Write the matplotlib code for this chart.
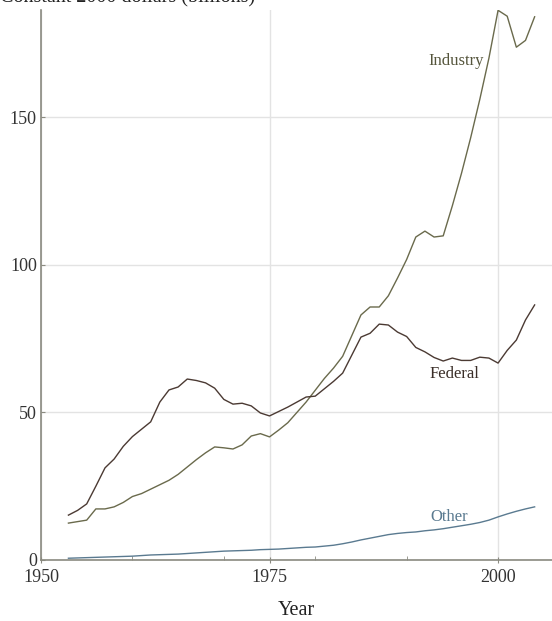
import matplotlib
matplotlib.use("Agg")
import matplotlib.pyplot as plt
from matplotlib.ticker import FixedLocator

years = list(range(1953, 2005))
industry = [12.5, 13.0, 13.5, 17.3, 17.3, 18.0, 19.5, 21.5, 22.5, 24.0, 25.5, 27.0,
            29.0, 31.5, 34.0, 36.3, 38.3, 38.0, 37.6, 39.0, 42.0, 42.8, 41.7, 44.0,
            46.5, 50.0, 53.5, 57.5, 61.5, 65.0, 69.0, 76.0, 83.0, 85.7, 85.7, 89.5,
            95.5, 101.8, 109.4, 111.4, 109.4, 109.8, 120.0, 131.0, 143.0, 156.0, 170.0, 186.2,
            184.2, 173.7, 176.0, 184.0]
federal = [15.2, 16.8, 19.0, 25.0, 31.2, 34.2, 38.5, 41.8, 44.3, 46.8, 53.5, 57.6,
           58.6, 61.3, 60.8, 60.0, 58.2, 54.4, 52.8, 53.1, 52.2, 49.8, 48.8, 50.3,
           51.8, 53.5, 55.2, 55.5, 58.0, 60.5, 63.3, 69.4, 75.5, 76.8, 79.9, 79.6,
           77.2, 75.7, 72.0, 70.5, 68.6, 67.4, 68.4, 67.6, 67.6, 68.7, 68.4, 66.7,
           71.0, 74.5, 81.3, 86.4]
other = [0.6, 0.7, 0.8, 0.9, 1.0, 1.1, 1.2, 1.3, 1.5, 1.7, 1.8, 1.9,
         2.0, 2.2, 2.4, 2.6, 2.8, 3.0, 3.1, 3.2, 3.3, 3.5, 3.6, 3.7,
         3.9, 4.1, 4.3, 4.4, 4.7, 5.0, 5.5, 6.1, 6.8, 7.4, 8.0, 8.6,
         9.0, 9.3, 9.5, 9.9, 10.2, 10.6, 11.1, 11.6, 12.1, 12.7, 13.5, 14.6,
         15.6, 16.5, 17.3, 18.0]

series_names = ["Industry", "Federal", "Other"]
colors = {"Industry": "#6a6a4c", "Federal": "#4b3a33", "Other": "#5a7a90"}
label_colors = {"Industry": "#55553c", "Federal": "#3a2e28", "Other": "#5a7a90"}

plt.rcParams['font.family'] = ['Liberation Serif', 'DejaVu Serif']

fig = plt.figure(figsize=(5.52, 6.21), dpi=100)
ax = fig.add_axes([41/552, 1-560/621, 1-41/552, 550/621])

ax.plot(years, industry, color=colors["Industry"], lw=1.0)
ax.plot(years, federal, color=colors["Federal"], lw=1.0)
ax.plot(years, other, color=colors["Other"], lw=1.0)

ax.set_xlim(1950, 2005.9)
ax.set_ylim(0, 186.3)

ax.xaxis.set_major_locator(FixedLocator([1950, 1975, 2000]))
ax.xaxis.set_minor_locator(FixedLocator([1960, 1970, 1980, 1990]))
ax.yaxis.set_major_locator(FixedLocator([0, 50, 100, 150]))

ax.grid(True, which='major', color='#e3e3e3', lw=1.0)
ax.set_axisbelow(True)
for s in ['top', 'right']:
    ax.spines[s].set_visible(False)
for s in ['left', 'bottom']:
    ax.spines[s].set_color('#8a8a80')
    ax.spines[s].set_linewidth(1.2)

ax.tick_params(axis='both', which='both', direction='in', length=3, color='#8a8a80',
               labelsize=13, labelcolor='#333333', pad=2)
ax.tick_params(axis='x', which='major', direction='inout', length=5, pad=4)
ax.tick_params(axis='y', which='major', pad=3)

ax.set_xlabel("Year", fontsize=14.5, color='#222222', labelpad=11)

fig.text(0.0, 1.0 + 0.003, "Constant 2000 dollars (billions)", fontsize=14.5,
         color='#222222', ha='left', va='center')

ax.text(1998.4, 169, "Industry", fontsize=12, color=label_colors["Industry"], ha='right', va='center')
ax.text(1995.2, 63, "Federal", fontsize=12, color=label_colors["Federal"], ha='center', va='center')
ax.text(1994.6, 14.6, "Other", fontsize=12, color=label_colors["Other"], ha='center', va='center')

fig.savefig("out.png", dpi=100)
